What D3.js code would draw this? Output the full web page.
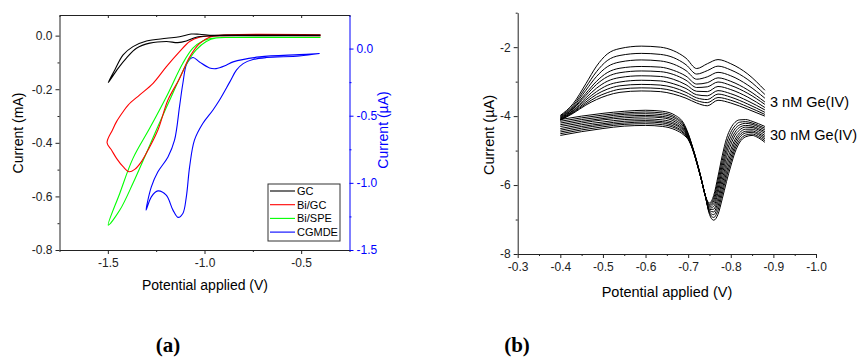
<!DOCTYPE html>
<html><head><meta charset="utf-8">
<script src="https://cdn.jsdelivr.net/npm/d3@7"></script>
<style>body{margin:0;background:#fff}svg{display:block}</style>
</head><body>
<svg id="c" width="859" height="360"></svg>
<script>
// ---------- Panel (a) data: cyclic voltammograms ----------
const gcX = [-0.40,-0.70,-0.90,-0.957,-1.026,-1.069,-1.129,-1.197,-1.30,-1.37,-1.421,-1.464,-1.498,-1.447,-1.404,-1.352,-1.283,-1.197,-1.138,-1.094,-1.043,-0.974,-0.90,-0.70,-0.40];
const gcY = [0.002,0.002,0.002,0.001,0.005,0.006,-0.004,-0.010,-0.020,-0.041,-0.072,-0.128,-0.175,-0.122,-0.084,-0.047,-0.028,-0.022,-0.026,-0.020,-0.006,-0.001,0.0,0.0,0.0];
const bigcX = [-0.40,-0.888,-1.026,-1.077,-1.129,-1.197,-1.266,-1.335,-1.395,-1.421,-1.455,-1.476,-1.504,-1.481,-1.455,-1.421,-1.390,-1.361,-1.326,-1.292,-1.241,-1.189,-1.129,-1.077,-1.026,-0.974,-0.90,-0.40];
const bigcY = [0.003,0.003,-0.006,-0.022,-0.060,-0.116,-0.178,-0.221,-0.259,-0.284,-0.321,-0.352,-0.400,-0.427,-0.458,-0.489,-0.508,-0.499,-0.470,-0.427,-0.352,-0.240,-0.160,-0.080,-0.030,-0.006,0.0,0.0];
const bispeX = [-0.40,-0.90,-0.957,-1.009,-1.060,-1.112,-1.197,-1.283,-1.370,-1.438,-1.498,-1.438,-1.370,-1.309,-1.249,-1.172,-1.091,-1.043,-0.991,-0.940,-0.85,-0.40];
const bispeY = [-0.007,-0.007,-0.010,-0.020,-0.047,-0.103,-0.228,-0.345,-0.458,-0.588,-0.707,-0.651,-0.551,-0.452,-0.352,-0.228,-0.103,-0.053,-0.022,-0.009,-0.007,-0.007];
// CGMDE on the right axis (uA)
const cgX = [-0.405,-0.509,-0.715,-0.852,-0.888,-0.940,-0.974,-1.026,-1.060,-1.091,-1.112,-1.129,-1.155,-1.189,-1.241,-1.275,-1.302,-1.275,-1.241,-1.198,-1.163,-1.137,-1.112,-1.094,-1.077,-1.052,-1.009,-0.957,-0.923,-0.869,-0.835,-0.800,-0.749,-0.680,-0.509,-0.405];
const cgY = [-0.037,-0.045,-0.062,-0.099,-0.124,-0.149,-0.144,-0.100,-0.067,-0.112,-0.260,-0.430,-0.682,-0.807,-0.918,-1.030,-1.203,-1.104,-1.060,-1.092,-1.203,-1.257,-1.228,-1.104,-0.881,-0.682,-0.558,-0.459,-0.385,-0.248,-0.161,-0.112,-0.082,-0.067,-0.055,-0.037];
const legendNames = ["GC","Bi/GC","Bi/SPE","CGMDE"];
const legendColors = ["#000000","#ff0000","#00ff00","#0000ff"];
const aXTicks = [-1.5,-1.0,-0.5];
const aXMinor = [-1.75,-1.25,-0.75,-0.25];
const aYTicks = [0.0,-0.2,-0.4,-0.6,-0.8];
const aYMinor = [-0.1,-0.3,-0.5,-0.7];
const aY2Ticks = [0.0,-0.5,-1.0,-1.5];
const aY2Minor = [-0.25,-0.75,-1.25];

// ---------- Panel (b) data: voltammograms ----------
const pot3 = [-0.40,-0.43,-0.46,-0.485,-0.51,-0.54,-0.59,-0.635,-0.665,-0.695,-0.72,-0.745,-0.77,-0.80,-0.84,-0.88];
const cur3nM = [
 [-3.98,-3.64,-3.06,-2.55,-2.20,-2.04,-1.97,-2.00,-2.10,-2.32,-2.62,-2.48,-2.36,-2.48,-2.78,-3.25],
 [-4.00,-3.69,-3.16,-2.71,-2.39,-2.24,-2.18,-2.21,-2.30,-2.51,-2.78,-2.68,-2.55,-2.66,-2.94,-3.37],
 [-4.02,-3.73,-3.25,-2.85,-2.57,-2.43,-2.37,-2.40,-2.49,-2.68,-2.93,-2.86,-2.73,-2.83,-3.10,-3.48],
 [-4.04,-3.77,-3.34,-2.99,-2.74,-2.61,-2.56,-2.58,-2.67,-2.84,-3.07,-3.03,-2.89,-2.99,-3.24,-3.59],
 [-4.06,-3.79,-3.40,-3.08,-2.86,-2.74,-2.69,-2.71,-2.79,-2.96,-3.17,-3.15,-3.01,-3.11,-3.34,-3.66],
 [-4.07,-3.83,-3.47,-3.19,-2.99,-2.88,-2.83,-2.85,-2.93,-3.09,-3.28,-3.29,-3.14,-3.23,-3.45,-3.75],
 [-4.09,-3.85,-3.53,-3.29,-3.11,-3.01,-2.96,-2.98,-3.06,-3.20,-3.38,-3.41,-3.26,-3.35,-3.56,-3.82],
 [-4.10,-3.88,-3.59,-3.37,-3.22,-3.12,-3.08,-3.10,-3.17,-3.31,-3.47,-3.52,-3.36,-3.45,-3.65,-3.89],
 [-4.11,-3.90,-3.64,-3.45,-3.32,-3.22,-3.18,-3.20,-3.27,-3.40,-3.55,-3.61,-3.46,-3.54,-3.73,-3.95],
 [-4.12,-3.92,-3.68,-3.52,-3.40,-3.31,-3.27,-3.29,-3.36,-3.48,-3.62,-3.70,-3.54,-3.62,-3.80,-4.00]
];
const pot30 = [-0.40,-0.45,-0.50,-0.55,-0.60,-0.64,-0.67,-0.69,-0.70,-0.71,-0.72,-0.73,-0.74,-0.75,-0.76,-0.77,-0.78,-0.79,-0.80,-0.81,-0.82,-0.835,-0.85,-0.865,-0.88];
const cur30nM = [
 [-4.10,-4.00,-3.92,-3.86,-3.83,-3.86,-3.98,-4.22,-4.50,-4.88,-5.30,-5.78,-6.30,-6.52,-6.30,-5.75,-5.15,-4.65,-4.35,-4.18,-4.11,-4.10,-4.15,-4.22,-4.30],
 [-4.15,-4.05,-3.97,-3.91,-3.88,-3.91,-4.03,-4.26,-4.52,-4.89,-5.31,-5.78,-6.30,-6.56,-6.38,-5.87,-5.29,-4.79,-4.47,-4.28,-4.18,-4.16,-4.20,-4.27,-4.35],
 [-4.20,-4.10,-4.02,-3.95,-3.93,-3.96,-4.07,-4.29,-4.54,-4.90,-5.31,-5.78,-6.30,-6.59,-6.46,-5.99,-5.43,-4.93,-4.59,-4.37,-4.26,-4.21,-4.24,-4.31,-4.40],
 [-4.25,-4.15,-4.07,-4.00,-3.98,-4.01,-4.12,-4.33,-4.56,-4.90,-5.32,-5.79,-6.30,-6.63,-6.54,-6.11,-5.56,-5.06,-4.71,-4.47,-4.33,-4.27,-4.29,-4.36,-4.45],
 [-4.30,-4.20,-4.11,-4.05,-4.02,-4.05,-4.17,-4.37,-4.58,-4.91,-5.32,-5.79,-6.30,-6.67,-6.62,-6.23,-5.70,-5.20,-4.83,-4.56,-4.41,-4.32,-4.33,-4.40,-4.50],
 [-4.36,-4.25,-4.17,-4.10,-4.08,-4.11,-4.22,-4.41,-4.60,-4.92,-5.33,-5.79,-6.30,-6.71,-6.70,-6.37,-5.85,-5.35,-4.97,-4.67,-4.49,-4.38,-4.38,-4.45,-4.56],
 [-4.41,-4.30,-4.22,-4.15,-4.13,-4.16,-4.26,-4.44,-4.62,-4.93,-5.33,-5.79,-6.30,-6.74,-6.78,-6.49,-5.99,-5.49,-5.09,-4.76,-4.56,-4.44,-4.43,-4.50,-4.61],
 [-4.46,-4.35,-4.26,-4.20,-4.17,-4.20,-4.31,-4.48,-4.64,-4.94,-5.34,-5.80,-6.30,-6.78,-6.86,-6.61,-6.13,-5.63,-5.21,-4.86,-4.63,-4.49,-4.47,-4.54,-4.66],
 [-4.51,-4.40,-4.31,-4.24,-4.22,-4.25,-4.35,-4.51,-4.66,-4.94,-5.35,-5.80,-6.30,-6.81,-6.94,-6.73,-6.26,-5.76,-5.33,-4.95,-4.71,-4.55,-4.52,-4.59,-4.71],
 [-4.56,-4.45,-4.36,-4.29,-4.27,-4.30,-4.40,-4.55,-4.68,-4.95,-5.35,-5.80,-6.30,-6.85,-7.02,-6.85,-6.40,-5.90,-5.45,-5.05,-4.78,-4.60,-4.56,-4.63,-4.76]
];
const bXTicks = [-0.3,-0.4,-0.5,-0.6,-0.7,-0.8,-0.9,-1.0];
const bXMinor = [-0.35,-0.45,-0.55,-0.65,-0.75,-0.85,-0.95];
const bYTicks = [-2,-4,-6,-8];
const bYMinor = [-1,-3,-5,-7];

// ---------- drawing ----------
const svg = d3.select("#c");
const FONT = '"Liberation Sans", Arial, sans-serif';

function styleAxis(g, color, fs) {
  g.attr("font-family", null).attr("font-size", null);
  g.select(".domain").attr("stroke", color).attr("stroke-width", 1);
  g.selectAll(".tick line").attr("stroke", color).attr("stroke-width", 1);
  g.selectAll(".tick text").attr("fill", color).style("font-family", FONT).style("font-size", fs + "px");
}
function minor(g, gen, color) {
  g.call(gen);
  g.select(".domain").remove();
  g.selectAll(".tick line").attr("stroke", color);
  g.selectAll(".tick text").remove();
}
const fmt1 = d => d.toFixed(1);
const fmt0 = d => d.toFixed(0);

// ===== Panel (a) =====
const xA = d3.scaleLinear().domain([-1.75, -0.25]).range([59.5, 349.5]);
const yA = d3.scaleLinear().domain([-0.8, 0.077]).range([250, 15]);
const yA2 = d3.scaleLinear().domain([-1.5, 0.25]).range([250, 15]);
const axc = "#222";

const gA = svg.append("g");
gA.append("g").attr("transform", "translate(0,15)")
  .call(d3.axisTop(xA).tickValues(aXTicks).tickSize(-3).tickSizeOuter(0).tickFormat(""))
  .call(g => styleAxis(g, axc, 12));
gA.append("g").attr("transform", "translate(0,15)")
  .call(g => minor(g, d3.axisTop(xA).tickValues(aXMinor).tickSize(-2).tickFormat(""), axc));
gA.append("g").attr("transform", "translate(0,250)")
  .call(d3.axisBottom(xA).tickValues(aXTicks).tickSize(4).tickSizeOuter(0).tickPadding(4).tickFormat(fmt1))
  .call(g => styleAxis(g, axc, 12));
gA.append("g").attr("transform", "translate(0,250)")
  .call(g => minor(g, d3.axisBottom(xA).tickValues(aXMinor).tickSize(2).tickFormat(""), axc));
gA.append("g").attr("transform", "translate(59.5,0)")
  .call(d3.axisLeft(yA).tickValues(aYTicks).tickSize(4).tickSizeOuter(0).tickPadding(3).tickFormat(fmt1))
  .call(g => styleAxis(g, axc, 12));
gA.append("g").attr("transform", "translate(59.5,0)")
  .call(g => minor(g, d3.axisLeft(yA).tickValues(aYMinor).tickSize(2).tickFormat(""), axc));
gA.append("g").attr("transform", "translate(349.5,0)")
  .call(d3.axisRight(yA2).tickValues(aY2Ticks).tickSize(4).tickSizeOuter(0).tickPadding(3).tickFormat(fmt1))
  .call(g => styleAxis(g, "#0000ff", 12));
gA.append("g").attr("transform", "translate(349.5,0)")
  .call(g => minor(g, d3.axisRight(yA2).tickValues(aY2Minor).tickSize(2).tickFormat(""), "#0000ff"));

const lineA = d3.line().curve(d3.curveCatmullRom.alpha(0.5));
function pathA(xs, ys, yScale, color) {
  const pts = xs.map((x, i) => [xA(x), yScale(ys[i])]);
  gA.append("path").attr("d", lineA(pts)).attr("fill", "none")
    .attr("stroke", color).attr("stroke-width", 1.1);
}
pathA(cgX, cgY, yA2, legendColors[3]);
pathA(bispeX, bispeY, yA, legendColors[2]);
pathA(bigcX, bigcY, yA, legendColors[1]);
pathA(gcX, gcY, yA, legendColors[0]);

gA.append("text").attr("x", 205).attr("y", 290).attr("text-anchor", "middle")
  .style("font-family", FONT).style("font-size", "14px").text("Potential applied (V)");
gA.append("text").attr("transform", "translate(23,133) rotate(-90)").attr("text-anchor", "middle")
  .style("font-family", FONT).style("font-size", "14px").text("Current (mA)");
gA.append("text").attr("transform", "translate(388,130) rotate(-90)").attr("text-anchor", "middle")
  .attr("fill", "#0000ff").style("font-family", FONT).style("font-size", "14px").text("Current (\u00b5A)");

const lg = gA.append("g");
lg.append("rect").attr("x", 268).attr("y", 184).attr("width", 72).attr("height", 57)
  .attr("fill", "#fff").attr("stroke", "#333").attr("stroke-width", 1);
legendNames.forEach((n, i) => {
  const y = 191 + i * 13.7;
  lg.append("line").attr("x1", 270).attr("x2", 295).attr("y1", y).attr("y2", y)
    .attr("stroke", legendColors[i]).attr("stroke-width", 1.1);
  lg.append("text").attr("x", 297).attr("y", y + 4).style("font-family", FONT)
    .style("font-size", "11px").text(n);
});

// ===== Panel (b) =====
const xB = d3.scaleLinear().domain([-0.3, -1.0]).range([517.7, 816]);
const yB = d3.scaleLinear().domain([-8, -1]).range([254, 12.7]);
const gB = svg.append("g");
gB.append("g").attr("transform", "translate(0,254)")
  .call(d3.axisBottom(xB).tickValues(bXTicks).tickSize(4).tickSizeOuter(0).tickPadding(4).tickFormat(fmt1))
  .call(g => styleAxis(g, axc, 12));
gB.append("g").attr("transform", "translate(0,254)")
  .call(g => minor(g, d3.axisBottom(xB).tickValues(bXMinor).tickSize(2).tickFormat(""), axc));
gB.append("g").attr("transform", "translate(517.7,0)")
  .call(d3.axisLeft(yB).tickValues(bYTicks).tickSize(4).tickSizeOuter(0).tickPadding(3).tickFormat(fmt0))
  .call(g => styleAxis(g, axc, 12));
gB.append("g").attr("transform", "translate(517.7,0)")
  .call(g => minor(g, d3.axisLeft(yB).tickValues(bYMinor).tickSize(2).tickFormat(""), axc));

const lineB = d3.line().curve(d3.curveMonotoneX);
cur3nM.forEach(ys => {
  gB.append("path").attr("d", lineB(pot3.map((x, i) => [xB(x), yB(ys[i])])))
    .attr("fill", "none").attr("stroke", "#000").attr("stroke-width", 1);
});
cur30nM.forEach(ys => {
  gB.append("path").attr("d", lineB(pot30.map((x, i) => [xB(x), yB(ys[i])])))
    .attr("fill", "none").attr("stroke", "#000").attr("stroke-width", 1);
});

gB.append("text").attr("x", 770).attr("y", 107).style("font-family", FONT).style("font-size", "14.5px").text("3 nM Ge(IV)");
gB.append("text").attr("x", 770).attr("y", 140).style("font-family", FONT).style("font-size", "14.5px").text("30 nM Ge(IV)");
gB.append("text").attr("x", 667).attr("y", 297).attr("text-anchor", "middle")
  .style("font-family", FONT).style("font-size", "14.5px").text("Potential applied (V)");
gB.append("text").attr("transform", "translate(494,135) rotate(-90)").attr("text-anchor", "middle")
  .style("font-family", FONT).style("font-size", "14.5px").text("Current (\u00b5A)");

svg.append("text").attr("x", 168).attr("y", 352).attr("text-anchor", "middle")
  .style("font-family", '"Liberation Serif", "DejaVu Serif", serif').style("font-size", "21px").style("font-weight", "bold").text("(a)");
svg.append("text").attr("x", 517).attr("y", 352).attr("text-anchor", "middle")
  .style("font-family", '"Liberation Serif", "DejaVu Serif", serif').style("font-size", "21px").style("font-weight", "bold").text("(b)");
</script>
</body></html>
